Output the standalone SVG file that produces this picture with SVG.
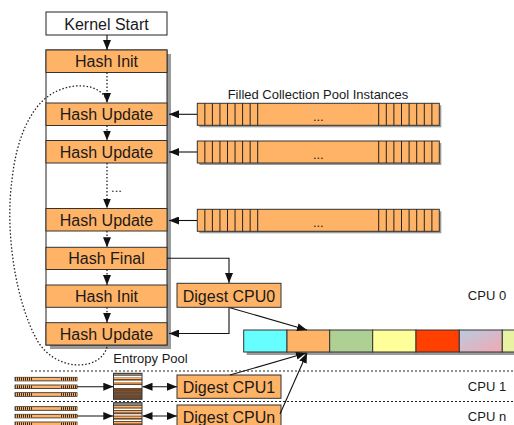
<svg xmlns="http://www.w3.org/2000/svg" width="514" height="425" viewBox="0 0 514 425">
<style>
.t{font-family:"Liberation Sans",Arial,sans-serif;font-size:16px;text-anchor:middle;fill:#1a1a1a}
.s{font-size:13px}
.box{fill:#ffb366;stroke:#333;stroke-width:1}
.ln{fill:none;stroke:#111;stroke-width:1.1}
.dot{fill:none;stroke:#222;stroke-width:1.3;stroke-dasharray:1.5 2}
.sep{fill:none;stroke:#222;stroke-width:1;stroke-dasharray:2 2}
.sh{fill:#9a9a9a}
.cell{stroke:#222;stroke-width:1}
</style>
<defs>
<marker id="a" markerUnits="userSpaceOnUse" markerWidth="10" markerHeight="8" refX="10" refY="4" orient="auto">
<path d="M0,0 L10,4 L0,8 z" fill="#111"/>
</marker>
<marker id="as" markerUnits="userSpaceOnUse" markerWidth="10" markerHeight="8" refX="0" refY="4" orient="auto">
<path d="M10,0 L0,4 L10,8 z" fill="#111"/>
</marker>
<pattern id="str" width="2" height="4" patternUnits="userSpaceOnUse">
<rect width="2" height="4" fill="#ffb366"/><rect width="1" height="4" fill="#3a2a1a"/>
</pattern>
<linearGradient id="pk" x1="0" y1="0" x2="1" y2="1">
<stop offset="0" stop-color="#b9cbe0"/><stop offset="1" stop-color="#f2a8b2"/>
</linearGradient>
<g id="pool">
<rect x="2" y="2" width="242" height="22" class="sh"/>
<rect x="0" y="0" width="242" height="22" class="box"/>
<path class="cell" d="M7.55,0v22M15.1,0v22M22.65,0v22M30.2,0v22M37.75,0v22M45.3,0v22M52.85,0v22M60.4,0v22M181.4,0v22M189,0v22M196.6,0v22M204.2,0v22M211.8,0v22M219.4,0v22M227,0v22M234.6,0v22"/>
<text x="121" y="18" class="t s">...</text>
</g>
<g id="mini">
<rect x="0" y="0" width="62" height="3.6" fill="#ffb366" stroke="#222" stroke-width="0.8"/>
<rect x="0.4" y="0.4" width="16.6" height="2.8" fill="url(#str)"/>
<rect x="45" y="0.4" width="16.6" height="2.8" fill="url(#str)"/>
</g>
</defs>

<g id="kernel-start">
<rect x="46" y="12" width="121" height="23" fill="#fff" stroke="#222"/>
<text x="106.5" y="29.5" class="t">Kernel Start</text>
</g>

<g id="hash-column">
<rect x="50" y="54" width="121" height="295" class="sh"/>
<rect x="46" y="50" width="121" height="295" fill="#fff" stroke="#222"/>
</g>
<g id="hash-init-1"><rect x="46" y="50" width="121" height="22.5" class="box"/><text x="106.5" y="67" class="t">Hash Init</text></g>
<g id="hash-update-1"><rect x="46" y="103" width="121" height="22.5" class="box"/><text x="106.5" y="120" class="t">Hash Update</text></g>
<g id="hash-update-2"><rect x="46" y="140.5" width="121" height="22.5" class="box"/><text x="106.5" y="157.5" class="t">Hash Update</text></g>
<g id="ellipsis"><text x="116.5" y="192" class="t s">...</text></g>
<g id="hash-update-3"><rect x="46" y="208.5" width="121" height="22.5" class="box"/><text x="106.5" y="225.5" class="t">Hash Update</text></g>
<g id="hash-final"><rect x="46" y="247.3" width="121" height="22.2" class="box"/><text x="106.5" y="264" class="t">Hash Final</text></g>
<g id="hash-init-2"><rect x="46" y="285" width="121" height="22.3" class="box"/><text x="106.5" y="302" class="t">Hash Init</text></g>
<g id="hash-update-4"><rect x="46" y="322.7" width="121" height="22.3" class="box"/><text x="106.5" y="339.6" class="t">Hash Update</text></g>

<g id="pools">
<text x="318" y="99" class="t s">Filled Collection Pool Instances</text>
<use href="#pool" x="197.3" y="103.3"/>
<use href="#pool" x="197.3" y="141"/>
<use href="#pool" x="197.3" y="209.3"/>
</g>

<g id="digest-cpu0"><rect x="177" y="283.3" width="104" height="24" class="box"/><text x="229" y="301.5" class="t">Digest CPU0</text></g>
<g id="digest-cpu1"><rect x="177" y="375" width="104" height="23.3" class="box"/><text x="229" y="392.5" class="t">Digest CPU1</text></g>
<g id="digest-cpun"><rect x="177" y="405" width="104" height="24" class="box"/><text x="229" y="423" class="t">Digest CPUn</text></g>

<g id="entropy-pool">
<rect x="246.7" y="333" width="270" height="22" class="sh"/>
<rect x="243.7" y="330" width="43.3" height="22" fill="#66ffff" stroke="#333"/>
<rect x="287" y="330" width="42.7" height="22" fill="#ffb366" stroke="#333"/>
<rect x="329.7" y="330" width="43" height="22" fill="#afd095" stroke="#333"/>
<rect x="372.7" y="330" width="43.3" height="22" fill="#ffff99" stroke="#333"/>
<rect x="416" y="330" width="43.3" height="22" fill="#ff4000" stroke="#333"/>
<rect x="459.3" y="330" width="43" height="22" fill="url(#pk)" stroke="#333"/>
<rect x="502.3" y="330" width="43" height="22" fill="#e8f2a1" stroke="#333"/>
<text x="150.5" y="363" class="t s">Entropy Pool</text>
</g>

<g id="cpu-labels">
<text x="487" y="300" class="t s">CPU 0</text>
<text x="487" y="391" class="t s">CPU 1</text>
<text x="487" y="421" class="t s">CPU n</text>
</g>

<g id="cpu1-pools">
<use href="#mini" x="15" y="377.3"/>
<use href="#mini" x="15" y="385"/>
<use href="#mini" x="15" y="392.7"/>
</g>
<g id="cpun-pools">
<use href="#mini" x="15" y="406.7"/>
<use href="#mini" x="15" y="414.3"/>
<use href="#mini" x="15" y="422"/>
</g>

<g id="cpu1-buffer">
<rect x="113.5" y="373.3" width="28.5" height="26" fill="#6b4a30" stroke="#333"/>
<rect x="114" y="374" width="27.5" height="1.6" fill="#888"/>
<rect x="114" y="376" width="27.5" height="1.4" fill="#fff"/>
<rect x="114" y="377.6" width="27.5" height="1.4" fill="#ffb366"/>
<rect x="114" y="380.6" width="27.5" height="1.4" fill="#fff"/>
<rect x="114" y="382.2" width="27.5" height="1.4" fill="#ffb366"/>
<rect x="114" y="385" width="27.5" height="3" fill="#fff"/>
<rect x="114" y="391" width="27.5" height="0.7" fill="#7d5a3c"/>
<rect x="114" y="394" width="27.5" height="0.7" fill="#7d5a3c"/>
</g>
<g id="cpun-buffer">
<rect x="113.5" y="402.7" width="28.5" height="26" fill="#6b4a30" stroke="#333"/>
<rect x="114" y="403.2" width="27.5" height="2" fill="#888"/>
<rect x="114" y="406" width="27.5" height="1.4" fill="#ffb366"/>
<rect x="114" y="408.6" width="27.5" height="1.4" fill="#fff"/>
<rect x="114" y="411" width="27.5" height="1.4" fill="#ffb366"/>
<rect x="114" y="414.2" width="27.5" height="1.4" fill="#fff"/>
<rect x="114" y="416.6" width="27.5" height="1.4" fill="#ffb366"/>
<rect x="114" y="419.6" width="27.5" height="1.4" fill="#fff"/>
<rect x="114" y="422" width="27.5" height="1.4" fill="#ffb366"/>
</g>

<g id="connectors">
<line class="ln" x1="107" y1="35" x2="107" y2="50" marker-end="url(#a)"/>
<line class="dot" x1="107" y1="72.5" x2="107" y2="103" marker-end="url(#a)"/>
<line class="dot" x1="107" y1="125.5" x2="107" y2="140.5" marker-end="url(#a)"/>
<line class="dot" x1="107" y1="163" x2="107" y2="208.5" marker-end="url(#a)"/>
<line class="dot" x1="107" y1="231" x2="107" y2="247.3" marker-end="url(#a)"/>
<line class="dot" x1="107" y1="269.5" x2="107" y2="285" marker-end="url(#a)"/>
<line class="dot" x1="107" y1="307.3" x2="107" y2="322.7" marker-end="url(#a)"/>
<path class="dot" stroke-width="1.1" stroke-dasharray="1.2 2" d="M107,347 C100,372 55,372 37,340 C15,300 5,230 12,180 C16,140 30,108 50,95 C70,82 98,82 107,100"/>
<line class="ln" x1="197" y1="114.3" x2="169" y2="114.3" marker-end="url(#a)"/>
<line class="ln" x1="197" y1="152" x2="169" y2="152" marker-end="url(#a)"/>
<line class="ln" x1="197" y1="220.5" x2="169" y2="220.5" marker-end="url(#a)"/>
<polyline class="ln" points="167,258.3 229,258.3 229,283" marker-end="url(#a)"/>
<polyline class="ln" points="229,307.3 229,333.5 169,333.5" marker-end="url(#a)"/>
<line class="ln" x1="230" y1="307.7" x2="307" y2="330" marker-end="url(#a)"/>
<line class="ln" x1="230" y1="375" x2="306" y2="353" marker-end="url(#a)"/>
<line class="ln" x1="280" y1="414" x2="307" y2="353" marker-end="url(#a)"/>
<line class="ln" x1="76.7" y1="386.7" x2="113.3" y2="386.7" marker-end="url(#a)"/>
<line class="ln" x1="76.7" y1="416" x2="113.3" y2="416" marker-end="url(#a)"/>
<line class="ln" x1="142.5" y1="386.7" x2="177" y2="386.7" marker-start="url(#as)" marker-end="url(#a)"/>
<line class="ln" x1="142.5" y1="416" x2="177" y2="416" marker-start="url(#as)" marker-end="url(#a)"/>
<line class="sep" x1="31" y1="371" x2="514" y2="371"/>
<line class="sep" x1="31" y1="401.5" x2="514" y2="401.5"/>
</g>
</svg>
